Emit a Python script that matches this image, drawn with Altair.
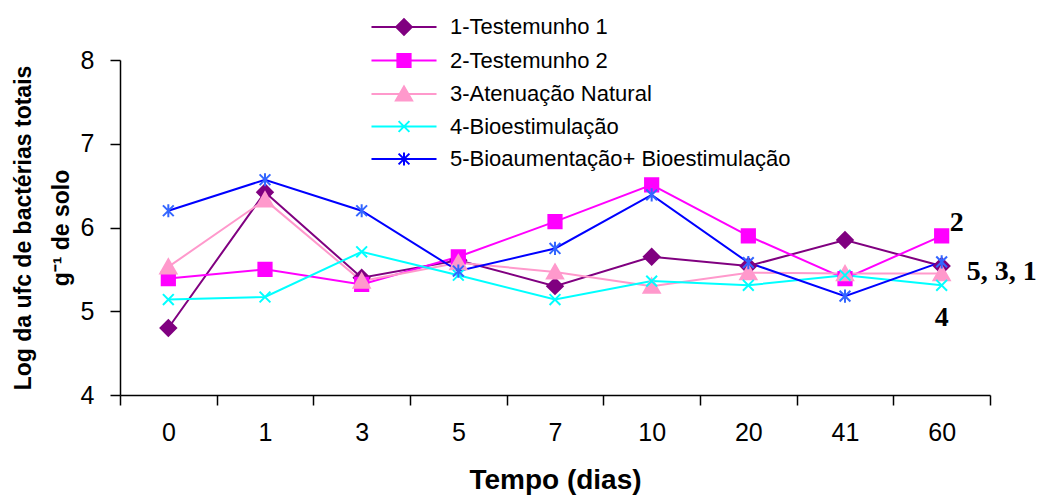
import altair as alt
import pandas as pd

days = ["0", "1", "3", "5", "7", "10", "20", "41", "60"]
series_names = [
    "1-Testemunho 1",
    "2-Testemunho 2",
    "3-Atenuação Natural",
    "4-Bioestimulação",
    "5-Bioaumentação+ Bioestimulação",
]
testemunho1 = [4.80, 6.42, 5.40, 5.61, 5.30, 5.65, 5.54, 5.85, 5.54]
testemunho2 = [5.39, 5.50, 5.32, 5.65, 6.07, 6.51, 5.90, 5.39, 5.90]
atenuacao = [5.53, 6.33, 5.36, 5.58, 5.47, 5.30, 5.46, 5.45, 5.45]
bioestimulacao = [5.14, 5.17, 5.71, 5.43, 5.14, 5.36, 5.31, 5.43, 5.31]
bioaumentacao = [6.20, 6.57, 6.20, 5.48, 5.75, 6.39, 5.58, 5.18, 5.59]

line_colors = ["#800080", "#FF00FF", "#FF99CC", "#00FFFF", "#0000FF"]
marker_colors = ["#800080", "#FF00FF", "#FF99CC", "#00FFFF", "#3366FF"]

marker_paths = [
    "M-1.3,0L0,-1.3L1.3,0L0,1.3Z",
    "M-1.1,-1.1H1.1V1.1H-1.1Z",
    "M0,-1.25L1.35,1.1H-1.35Z",
    "M-0.9,-0.9L0.9,0.9M-0.9,0.9L0.9,-0.9",
    "M-0.9,-0.9L0.9,0.9M-0.9,0.9L0.9,-0.9M0,-1.1V1.1",
]
legend_line = "M-5.42,0H5.42"
legend_paths = [legend_line + p for p in marker_paths]

annot_labels = ["2", "5, 3, 1", "4"]
annot_values = [6.05, 5.47, 4.92]
annot_day = "60"
annot_dx = [8, 25, -7]

rows = []
for name, vals in zip(series_names, [testemunho1, testemunho2, atenuacao, bioestimulacao, bioaumentacao]):
    for d, v in zip(days, vals):
        rows.append({"serie": name, "dia": d, "valor": v})
df = pd.DataFrame(rows)

annot_df = pd.DataFrame({"label": annot_labels, "valor": annot_values, "dia": [annot_day] * len(annot_labels)})

x_enc = alt.X(
    "dia:O",
    sort=days,
    bandPosition=0.5,
    scale=alt.Scale(type="band", paddingInner=0, paddingOuter=0, domain=days),
    axis=alt.Axis(
        title="Tempo (dias)",
        labelAngle=0,
        tickBand="extent",
        tickSize=10,
        tickWidth=1.5,
        tickColor="black",
        domainColor="black",
        domainWidth=1.5,
        labelFont="Arial",
        labelFontSize=25,
        labelColor="black",
        labelPadding=15,
        titleFont="Arial",
        titleFontSize=28,
        titleFontWeight="bold",
        titleColor="black",
        titlePadding=21,
        grid=False,
    ),
)
y_enc = alt.Y(
    "valor:Q",
    scale=alt.Scale(domain=[4, 8], nice=False, zero=False),
    axis=alt.Axis(
        title=["Log da ufc de bactérias totais", "g\u207b\u00b9 de solo"],
        values=[4, 5, 6, 7, 8],
        format="d",
        tickSize=10,
        tickWidth=1.5,
        tickColor="black",
        domainColor="black",
        domainWidth=1.5,
        labelFont="Arial",
        labelFontSize=25,
        labelColor="black",
        labelPadding=16,
        titleFont="Arial",
        titleFontSize=23,
        titleFontWeight="bold",
        titleColor="black",
        titleLineHeight=38,
        titlePadding=7,
        grid=False,
    ),
)

base = alt.Chart(df)

lines = base.mark_line(strokeWidth=2).encode(
    x=x_enc,
    y=y_enc,
    color=alt.Color("serie:N", scale=alt.Scale(domain=series_names, range=line_colors), legend=None),
)

points = base.mark_point(filled=True, opacity=1, size=144, strokeWidth=2).encode(
    x=x_enc,
    y=y_enc,
    shape=alt.Shape("serie:N", scale=alt.Scale(domain=series_names, range=marker_paths), legend=None),
    fill=alt.Fill("serie:N", scale=alt.Scale(domain=series_names, range=marker_colors), legend=None),
    stroke=alt.Stroke("serie:N", scale=alt.Scale(domain=series_names, range=marker_colors), legend=None),
)

leg = alt.Legend(
    title=None,
    orient="none",
    legendX=273,
    legendY=-44,
    direction="vertical",
    labelFont="Arial",
    labelFontSize=22,
    labelColor="black",
    labelLimit=800,
    labelOffset=35,
    symbolSize=144,
    symbolStrokeWidth=2,
    rowPadding=10.5,
    padding=0,
)

legend_layer = base.transform_filter("false").mark_point(filled=True, opacity=1, size=144, strokeWidth=2).encode(
    shape=alt.Shape("serie:N", scale=alt.Scale(domain=series_names, range=legend_paths), legend=leg),
    fill=alt.Fill("serie:N", scale=alt.Scale(domain=series_names, range=marker_colors), legend=leg),
    stroke=alt.Stroke("serie:N", scale=alt.Scale(domain=series_names, range=line_colors), legend=leg),
)

annots = []
for lab, dx in zip(annot_labels, annot_dx):
    annots.append(
        alt.Chart(annot_df)
        .transform_filter(alt.datum.label == lab)
        .mark_text(
            font="Liberation Serif",
            fontWeight="bold",
            fontSize=28,
            align="left",
            baseline="middle",
            dx=dx,
            color="black",
        )
        .encode(x=x_enc, y=y_enc, text="label:N")
    )

chart = (
    alt.layer(lines, points, legend_layer, *annots)
    .resolve_scale(shape="independent", fill="independent", stroke="independent")
    .properties(
        width=870,
        height=335,
        autosize=alt.AutoSizeParams(type="none"),
        padding={"left": 120, "top": 60, "right": 56, "bottom": 100},
        background="white",
    )
    .configure_view(stroke=None)
)

chart.save("out.html", embed_options={"renderer": "svg", "actions": False})
